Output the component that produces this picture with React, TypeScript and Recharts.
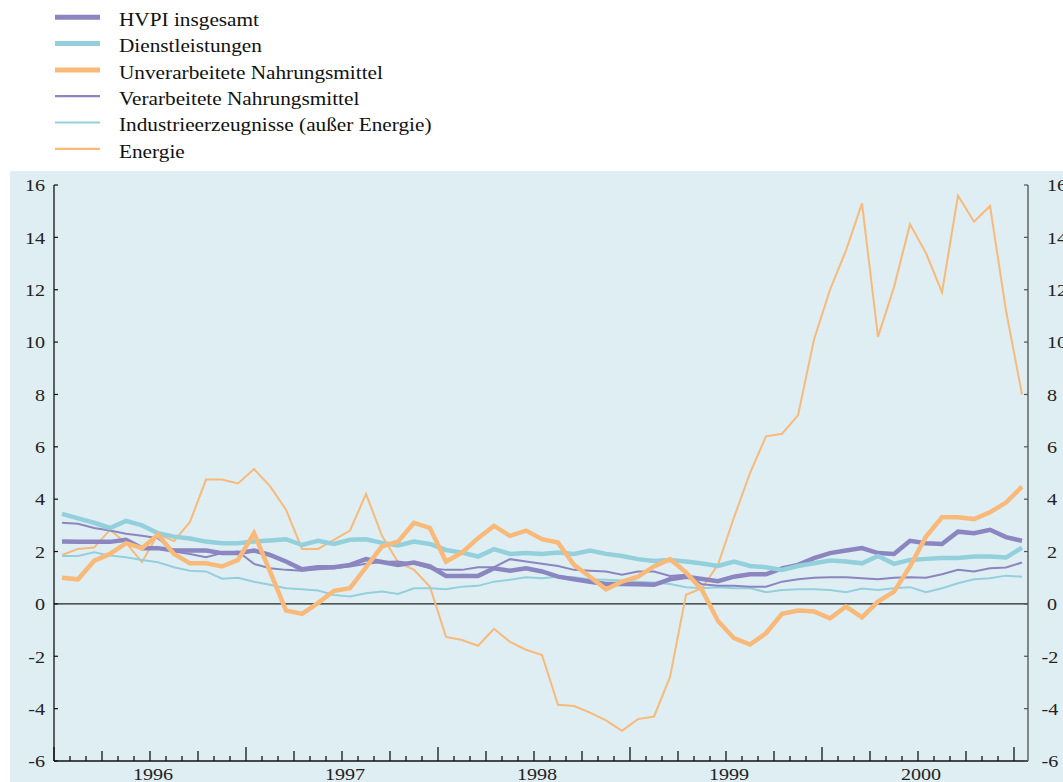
import React from 'react';
import { LineChart, Line, XAxis, YAxis, ReferenceLine } from 'recharts';

// monthly data, Jan 1996 .. Jan 2001 (index 0 = Jan 1996)
const hvpi = [
  2.38, 2.37, 2.37, 2.37, 2.45, 2.13, 2.13, 2.04, 2.04, 2.04, 1.94, 1.94,
  2.04, 1.87, 1.62, 1.32, 1.4, 1.4, 1.49, 1.71, 1.6, 1.49, 1.58, 1.43,
  1.07, 1.07, 1.07, 1.36, 1.27, 1.36, 1.24, 1.04, 0.94, 0.85, 0.76, 0.76,
  0.75, 0.73, 0.94, 1.04, 0.95, 0.87, 1.04, 1.13, 1.13, 1.36, 1.49, 1.75,
  1.94, 2.04, 2.13, 1.94, 1.91, 2.41, 2.32, 2.29, 2.76, 2.7, 2.83, 2.55,
  2.41,
];
const services = [
  3.44, 3.27, 3.1, 2.9, 3.17, 3.0, 2.7, 2.57, 2.5, 2.38, 2.32, 2.32,
  2.38, 2.42, 2.47, 2.25, 2.41, 2.29, 2.45, 2.47, 2.33, 2.23, 2.38, 2.29,
  2.06, 1.96, 1.81, 2.09, 1.91, 1.94, 1.91, 1.96, 1.91, 2.04, 1.91, 1.83,
  1.71, 1.64, 1.68, 1.62, 1.54, 1.45, 1.62, 1.45, 1.4, 1.3, 1.45, 1.55,
  1.66, 1.62, 1.55, 1.83, 1.53, 1.68, 1.72, 1.75, 1.75, 1.81, 1.81, 1.77,
  2.15,
];
const unprocessedFood = [
  1.0, 0.94, 1.64, 1.91, 2.32, 2.13, 2.64, 1.91, 1.55, 1.55, 1.43, 1.68,
  2.7, 1.24, -0.25, -0.38, 0.03, 0.5, 0.6, 1.4, 2.2, 2.38, 3.1, 2.9,
  1.62, 1.96, 2.51, 2.98, 2.6, 2.8, 2.47, 2.34, 1.49, 1.04, 0.56, 0.85,
  1.04, 1.43, 1.71, 1.2, 0.53, -0.65, -1.31, -1.55, -1.12, -0.38, -0.25, -0.29,
  -0.55, -0.1, -0.51, 0.09, 0.47, 1.43, 2.57, 3.31, 3.31, 3.24, 3.5, 3.87,
  4.48,
];
const processedFood = [
  3.1, 3.06, 2.9, 2.8, 2.68, 2.6, 2.51, 2.0, 1.91, 1.78, 1.94, 2.0,
  1.53, 1.36, 1.3, 1.27, 1.32, 1.36, 1.43, 1.53, 1.6, 1.62, 1.53, 1.36,
  1.3, 1.3, 1.4, 1.4, 1.71, 1.62, 1.53, 1.45, 1.3, 1.27, 1.24, 1.11,
  1.24, 1.24, 1.07, 1.11, 0.75, 0.69, 0.69, 0.66, 0.66, 0.85, 0.94, 1.0,
  1.02, 1.02, 0.98, 0.94, 1.0, 1.02, 1.0, 1.13, 1.3, 1.24, 1.36, 1.39,
  1.58,
];
const industrialGoods = [
  1.83, 1.83, 1.97, 1.85, 1.78, 1.68, 1.59, 1.4, 1.27, 1.24, 0.96, 1.0,
  0.85, 0.73, 0.6, 0.56, 0.51, 0.34, 0.28, 0.41, 0.47, 0.38, 0.6, 0.6,
  0.56, 0.66, 0.69, 0.85, 0.92, 1.02, 0.98, 1.04, 1.02, 0.94, 0.92, 0.89,
  0.85, 0.82, 0.76, 0.64, 0.6, 0.64, 0.6, 0.6, 0.45, 0.53, 0.56, 0.56,
  0.53, 0.45, 0.59, 0.53, 0.6, 0.64, 0.45, 0.6, 0.79, 0.94, 0.98, 1.08,
  1.04,
];
const energy = [
  1.87, 2.1, 2.15, 2.83, 2.33, 1.6, 2.67, 2.4, 3.13, 4.75, 4.75, 4.6,
  5.15, 4.5, 3.6, 2.1, 2.1, 2.45, 2.8, 4.2, 2.6, 1.6, 1.3, 0.65,
  -1.26, -1.38, -1.6, -0.95, -1.45, -1.75, -1.95, -3.85, -3.9, -4.15, -4.45, -4.85,
  -4.4, -4.3, -2.8, 0.35, 0.6, 1.5, 3.3, 5.0, 6.4, 6.5, 7.2, 10.1,
  12.0, 13.5, 15.3, 10.2, 12.1, 14.5, 13.4, 11.9, 15.6, 14.6, 15.2, 11.2,
  8.0,
];

const yearLabels = ['1996', '1997', '1998', '1999', '2000'];
const yTicks = [-6, -4, -2, 0, 2, 4, 6, 8, 10, 12, 14, 16];
// month boundaries (between monthly points), Jan 1996 .. Jan 2001
const monthTicks = energy.map((_, i) => i - 0.5);

const PURPLE = '#8b85c0';
const BLUE = '#93d0dc';
const ORANGE = '#f8b979';
const FONT = "'Liberation Serif', 'Times New Roman', Times, serif";

const data = energy.map((_, i) => ({
  m: i,
  hvpi: hvpi[i],
  services: services[i],
  unprocessed: unprocessedFood[i],
  processed: processedFood[i],
  industrial: industrialGoods[i],
  energy: energy[i],
}));

const legendItems = [
  { name: 'HVPI insgesamt', color: PURPLE, width: 5 },
  { name: 'Dienstleistungen', color: BLUE, width: 5 },
  { name: 'Unverarbeitete Nahrungsmittel', color: ORANGE, width: 5 },
  { name: 'Verarbeitete Nahrungsmittel', color: PURPLE, width: 2.2 },
  { name: 'Industrieerzeugnisse (außer Energie)', color: BLUE, width: 2.2 },
  { name: 'Energie', color: ORANGE, width: 2.2 },
];

function MonthTick(props: any) {
  const { x, y, payload } = props;
  const k = Math.round(payload.value + 0.5);
  const len = k % 12 === 0 ? 14 : k % 3 === 0 ? 10 : 5;
  const year = k % 12 === 6 ? yearLabels[(k - 6) / 12] : null;
  return (
    <g>
      <line x1={x} x2={x} y1={y} y2={y - len} stroke="#111" strokeWidth={1.3} />
      {year && (
        <text
          transform={`translate(${x + 3} ${y + 18.5}) scale(1.15 1)`}
          textAnchor="middle"
          fontSize={17.5}
          style={{ fontFamily: FONT }}
          fill="#222"
        >
          {year}
        </text>
      )}
    </g>
  );
}

function LeftTick(props: any) {
  const { x, y, payload } = props;
  return (
    <g>
      <line x1={x} x2={x + 4} y1={y} y2={y} stroke="#111" strokeWidth={1.2} />
      <text
        transform={`translate(${x - 9} ${y}) scale(1.15 1)`}
        textAnchor="end"
        dy="0.36em"
        fontSize={17.5}
        style={{ fontFamily: FONT }}
        fill="#222"
      >
        {payload.value}
      </text>
    </g>
  );
}

function RightTick(props: any) {
  const { x, y, payload } = props;
  const offset = payload.value < 0 ? 13.5 : 19;
  return (
    <g>
      <line x1={x - 4} x2={x} y1={y} y2={y} stroke="#555" strokeWidth={1.2} />
      <text
        transform={`translate(${x + offset} ${y}) scale(1.15 1)`}
        textAnchor="start"
        dy="0.36em"
        fontSize={17.5}
        style={{ fontFamily: FONT }}
        fill="#222"
      >
        {payload.value}
      </text>
    </g>
  );
}

export default function App() {
  return (
    <div style={{ position: 'absolute', left: 0, top: 0, width: 1063, height: 782, overflow: 'hidden', background: '#fff' }}>
      <div style={{ position: 'absolute', left: 10, top: 171, width: 1053, height: 611, background: '#dfeef3' }} />

      <svg width={460} height={165} style={{ position: 'absolute', left: 0, top: 0 }}>
        {legendItems.map((it, i) => {
          const ly = 17.3 + i * 26.3;
          return (
            <g key={it.name}>
              <line x1={55} x2={100} y1={ly} y2={ly} stroke={it.color} strokeWidth={it.width} />
              <text
                transform={`translate(119 ${ly + 8.7}) scale(1.12 1)`}
                fontSize={19}
                style={{ fontFamily: FONT }}
                fill="#111"
              >
                {it.name}
              </text>
            </g>
          );
        })}
      </svg>

      <div style={{ position: 'absolute', left: 0, top: 0 }}>
        <LineChart width={1063} height={782} data={data} margin={{ top: 185, right: 0, bottom: 0, left: 0 }}>
          <XAxis
            dataKey="m"
            type="number"
            domain={[-0.5, 60.375]}
            allowDataOverflow
            ticks={monthTicks}
            interval={0}
            height={21}
            tickSize={0}
            tickMargin={0}
            tick={<MonthTick />}
            axisLine={{ stroke: '#111', strokeWidth: 1.3 }}
            tickLine={false}
          />
          <YAxis
            yAxisId="left"
            orientation="left"
            type="number"
            domain={[-6, 16]}
            ticks={yTicks}
            interval={0}
            width={54}
            tickSize={0}
            tickMargin={0}
            tick={<LeftTick />}
            axisLine={{ stroke: '#111', strokeWidth: 1.3 }}
            tickLine={false}
            allowDataOverflow
          />
          <YAxis
            yAxisId="right"
            orientation="right"
            type="number"
            domain={[-6, 16]}
            ticks={yTicks}
            interval={0}
            width={35}
            tickSize={0}
            tickMargin={0}
            tick={<RightTick />}
            axisLine={{ stroke: '#5f6466', strokeWidth: 1.5 }}
            tickLine={false}
            allowDataOverflow
          />
          <ReferenceLine yAxisId="left" y={0} stroke="#222" strokeWidth={1.3} />
          <Line yAxisId="left" type="linear" dataKey="energy" stroke={ORANGE} strokeWidth={2} dot={false} isAnimationActive={false} />
          <Line yAxisId="left" type="linear" dataKey="industrial" stroke={BLUE} strokeWidth={2} dot={false} isAnimationActive={false} />
          <Line yAxisId="left" type="linear" dataKey="processed" stroke={PURPLE} strokeWidth={2} dot={false} isAnimationActive={false} />
          <Line yAxisId="left" type="linear" dataKey="hvpi" stroke={PURPLE} strokeWidth={4.5} dot={false} isAnimationActive={false} />
          <Line yAxisId="left" type="linear" dataKey="services" stroke={BLUE} strokeWidth={4.5} dot={false} isAnimationActive={false} />
          <Line yAxisId="left" type="linear" dataKey="unprocessed" stroke={ORANGE} strokeWidth={4.5} dot={false} isAnimationActive={false} />
        </LineChart>
      </div>
    </div>
  );
}
